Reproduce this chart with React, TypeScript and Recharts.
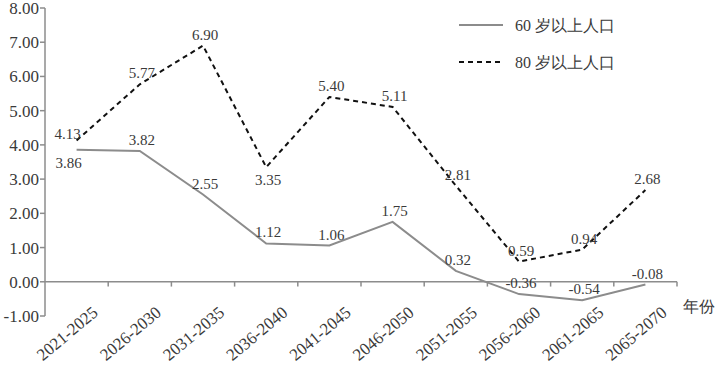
import { Line, LineChart, ReferenceLine, XAxis, YAxis, LabelList } from 'recharts';

const categories = [
  '2021-2025',
  '2026-2030',
  '2031-2035',
  '2036-2040',
  '2041-2045',
  '2046-2050',
  '2051-2055',
  '2056-2060',
  '2061-2065',
  '2065-2070',
];
const over60 = [3.86, 3.82, 2.55, 1.12, 1.06, 1.75, 0.32, -0.36, -0.54, -0.08];
const over80 = [4.13, 5.77, 6.9, 3.35, 5.4, 5.11, 2.81, 0.59, 0.94, 2.68];
const yTicks = [-1, 0, 1, 2, 3, 4, 5, 6, 7, 8];
const name60 = '60 岁以上人口';
const name80 = '80 岁以上人口';

// where each value label sits relative to its point
const place60 = ['belowLeft', 'above', 'above', 'above', 'above', 'above', 'above', 'above', 'above', 'above'];
const place80 = ['left', 'above', 'above', 'below', 'above', 'above', 'above', 'above', 'above', 'above'];

const data = categories.map((c, i) => ({ i, name: c, v60: over60[i], v80: over80[i] }));

const FONT = 'Liberation Serif';
const TEXT = '#3a3a3a';
const GREY = '#8c8c8c';

const makeLabel = (places: string[]) => (props: any) => {
  const { x, y, value, index } = props;
  const p = places[index];
  let dx = 2;
  let dy = -11;
  if (p === 'below') dy = 13;
  if (p === 'belowLeft') {
    dx = -8;
    dy = 13;
  }
  if (p === 'left') {
    dx = -9;
    dy = -6;
  }
  return (
    <text
      x={x + dx}
      y={y + dy}
      textAnchor="middle"
      dominantBaseline="central"
      style={{ fontSize: 15, fontFamily: FONT }}
      fill={TEXT}
    >
      {Number(value).toFixed(2)}
    </text>
  );
};

const CatTick = (props: any) => {
  const { x, y, payload } = props;
  const tx = x + 19;
  const ty = y - 14;
  return (
    <text
      x={tx}
      y={ty}
      transform={`rotate(-40 ${tx} ${ty})`}
      textAnchor="end"
      dominantBaseline="central"
      style={{ fontSize: 17, fontFamily: FONT }}
      fill={TEXT}
    >
      {categories[payload.value]}
    </text>
  );
};

export default function App() {
  return (
    <div
      style={{
        position: 'absolute',
        left: 0,
        top: 0,
        width: 720,
        height: 380,
        background: '#fff',
        fontFamily: FONT,
      }}
    >
      <LineChart width={720} height={380} data={data} margin={{ top: 8, right: 43, bottom: 0, left: 0 }}>
        <XAxis
          type="number"
          dataKey="i"
          domain={[-0.5, 9.5]}
          ticks={[0, 1, 2, 3, 4, 5, 6, 7, 8, 9]}
          axisLine={false}
          tickLine={false}
          height={64}
          tick={<CatTick />}
          interval={0}
        />
        <YAxis
          domain={[-1, 8]}
          ticks={yTicks}
          width={45}
          interval={0}
          tickFormatter={(v: number) => v.toFixed(2)}
          tick={{ fontSize: 17, fontFamily: FONT, fill: TEXT }}
          axisLine={{ stroke: GREY, strokeWidth: 1.5 }}
          tickLine={{ stroke: GREY, strokeWidth: 1.5 }}
          tickSize={5}
          tickMargin={1}
        />
        <ReferenceLine y={0} stroke={GREY} strokeWidth={1.5} />
        {[0.5, 1.5, 2.5, 3.5, 4.5, 5.5, 6.5, 7.5, 8.5, 9.5].map((b) => (
          <ReferenceLine
            key={b}
            segment={[
              { x: b, y: 0 },
              { x: b, y: -0.14 },
            ]}
            stroke={GREY}
            strokeWidth={1.5}
          />
        ))}
        <Line
          dataKey="v60"
          name={name60}
          stroke={GREY}
          strokeWidth={2}
          dot={false}
          isAnimationActive={false}
        >
          <LabelList dataKey="v60" content={makeLabel(place60)} />
        </Line>
        <Line
          dataKey="v80"
          name={name80}
          stroke="#111"
          strokeWidth={2}
          strokeDasharray="5 4"
          dot={false}
          isAnimationActive={false}
        >
          <LabelList dataKey="v80" content={makeLabel(place80)} />
        </Line>
      </LineChart>
      <svg width={200} height={60} style={{ position: 'absolute', left: 459, top: 15 }}>
        <line x1={0} y1={10} x2={44} y2={10} stroke={GREY} strokeWidth={2} />
        <text x={56} y={10} dominantBaseline="central" style={{ fontSize: 16, fontFamily: FONT }} fill={TEXT}>
          {name60}
        </text>
        <line x1={0} y1={47} x2={44} y2={47} stroke="#111" strokeWidth={2} strokeDasharray="5 4" />
        <text x={56} y={47} dominantBaseline="central" style={{ fontSize: 16, fontFamily: FONT }} fill={TEXT}>
          {name80}
        </text>
      </svg>
      <div
        style={{
          position: 'absolute',
          left: 683,
          top: 297,
          fontSize: 16,
          color: TEXT,
        }}
      >
        年份
      </div>
    </div>
  );
}
